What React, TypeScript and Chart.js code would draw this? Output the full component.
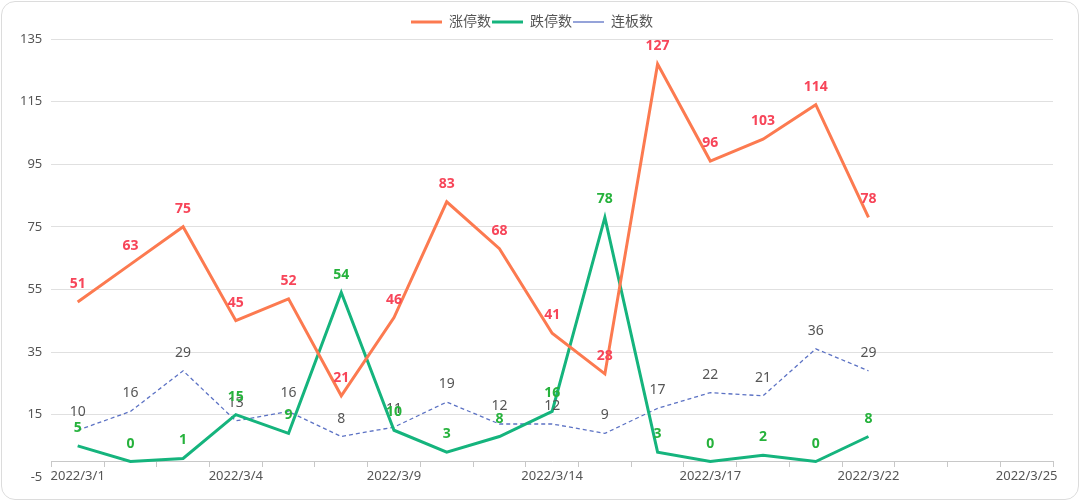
import React, { useEffect, useRef } from 'react';
import { Chart, registerables } from 'chart.js';

Chart.register(...registerables);

const categories = [
  '2022/3/1', '2022/3/2', '2022/3/3', '2022/3/4', '2022/3/7', '2022/3/8', '2022/3/9',
  '2022/3/10', '2022/3/11', '2022/3/14', '2022/3/15', '2022/3/16', '2022/3/17',
  '2022/3/18', '2022/3/21', '2022/3/22', '2022/3/23', '2022/3/24', '2022/3/25',
];
const limitUp = [51, 63, 75, 45, 52, 21, 46, 83, 68, 41, 28, 127, 96, 103, 114, 78];
const limitDown = [5, 0, 1, 15, 9, 54, 10, 3, 8, 16, 78, 3, 0, 2, 0, 8];
const consecutive = [10, 16, 29, 13, 16, 8, 11, 19, 12, 12, 9, 17, 22, 21, 36, 29];
const seriesNames = ['涨停数', '跌停数', '连板数'];
const yMin = -5;
const yMax = 135;
const yStep = 20;
const labelEvery = 3;

const FONT = '"Noto Sans", "Noto Sans CJK SC", sans-serif';

const pointLabels = {
  id: 'pointLabels',
  afterDatasetsDraw(chart: any) {
    const ctx = chart.ctx;
    const order = [2, 0, 1];
    order.forEach((i) => {
      const ds: any = chart.data.datasets[i];
      const meta = chart.getDatasetMeta(i);
      if (!chart.isDatasetVisible(i)) return;
      ctx.save();
      ctx.font = `${ds.labelBold ? 'bold ' : ''}14px ${FONT}`;
      ctx.fillStyle = ds.labelColor;
      ctx.textAlign = 'center';
      ctx.textBaseline = 'alphabetic';
      meta.data.forEach((pt: any, j: number) => {
        const v = ds.data[j];
        if (v == null) return;
        ctx.fillText(String(v), pt.x, pt.y - 14);
      });
      ctx.restore();
    });
  },
};

export default function App() {
  const ref = useRef<HTMLCanvasElement>(null);
  useEffect(() => {
    if (!ref.current) return;
    const chart = new Chart(ref.current, {
      type: 'line',
      data: {
        labels: categories,
        datasets: [
          {
            label: seriesNames[0],
            data: limitUp,
            borderColor: '#fc7a50',
            backgroundColor: '#fc7a50',
            borderWidth: 3,
            pointRadius: 0,
            tension: 0,
            labelColor: '#f74559',
            labelBold: true,
          } as any,
          {
            label: seriesNames[1],
            data: limitDown,
            borderColor: '#15b47d',
            backgroundColor: '#15b47d',
            borderWidth: 3,
            pointRadius: 0,
            tension: 0,
            labelColor: '#26b23c',
            labelBold: true,
          } as any,
          {
            label: seriesNames[2],
            data: consecutive,
            borderColor: '#5c72c4',
            backgroundColor: '#5c72c4',
            borderWidth: 1.3,
            borderDash: [4, 3],
            pointRadius: 0,
            tension: 0,
            labelColor: '#555555',
            labelBold: false,
          } as any,
        ],
      },
      options: {
        animation: false,
        responsive: false,
        maintainAspectRatio: false,
        layout: { padding: { left: 11, right: 27, top: 14, bottom: 1 } },
        plugins: {
          legend: {
            display: true,
            position: 'top',
            labels: {
              usePointStyle: true,
              pointStyle: 'line',
              pointStyleWidth: 31,
              padding: 1,
              color: '#555555',
              font: { family: FONT, size: 14 },
            },
          },
          tooltip: { enabled: false },
        },
        scales: {
          x: {
            type: 'category',
            position: { y: 0 } as any,
            offset: true,
            border: { display: true, color: '#c8c8c8', width: 1 },
            grid: {
              display: true,
              offset: true,
              drawOnChartArea: false,
              drawTicks: true,
              tickLength: 5,
              color: '#c8c8c8',
            },
            ticks: {
              autoSkip: false,
              maxRotation: 0,
              minRotation: 0,
              padding: 2,
              color: '#555555',
              font: { family: FONT, size: 13 },
              callback: (_v: any, i: number) => (i % labelEvery === 0 ? categories[i] : ''),
            },
          },
          y: {
            type: 'linear',
            min: yMin,
            max: yMax,
            border: { display: false },
            grid: {
              drawTicks: false,
              color: (c: any) => (c.tick && c.tick.value === yMin ? 'rgba(0,0,0,0)' : '#e0e0e0'),
            },
            ticks: {
              stepSize: yStep,
              padding: 9,
              color: '#555555',
              font: { family: FONT, size: 13 },
            },
          },
        },
      } as any,
      plugins: [pointLabels],
    });
    return () => chart.destroy();
  }, []);

  return (
    <div style={{ position: 'fixed', left: 0, top: 0, width: 1080, height: 501, background: '#fff' }}>
      <canvas ref={ref} width={1080} height={494} style={{ position: 'absolute', left: 0, top: 0, width: 1080, height: 494 }} />
      <div
        style={{
          position: 'absolute',
          left: 1,
          top: 1,
          width: 1076,
          height: 497,
          border: '1px solid #dcdcdc',
          borderRadius: 14,
          pointerEvents: 'none',
        }}
      />
    </div>
  );
}
